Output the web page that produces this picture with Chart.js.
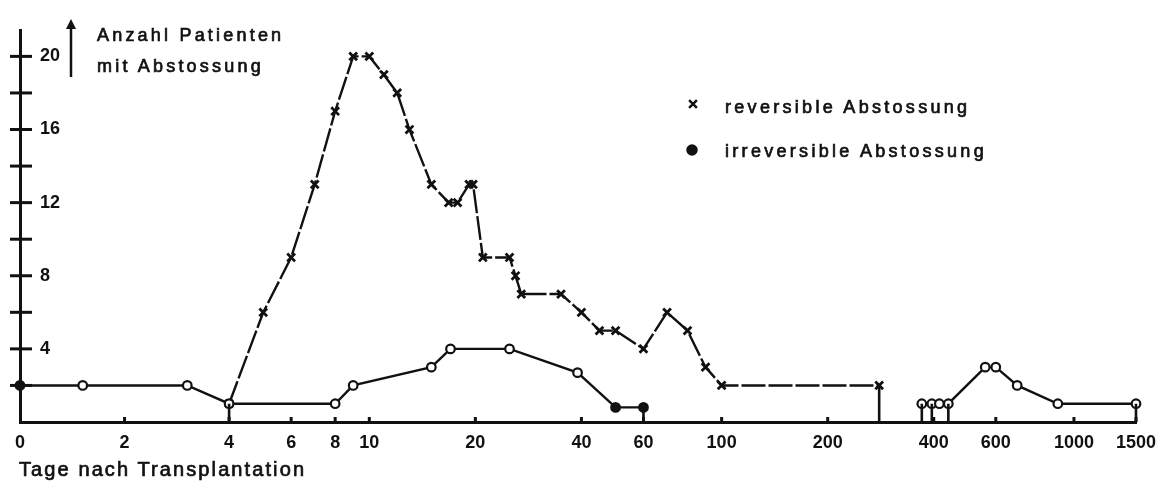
<!DOCTYPE html>
<html>
<head>
<meta charset="utf-8">
<script src="https://cdn.jsdelivr.net/npm/chart.js"></script>
<style>
  body { margin: 0; background: #fff; }
  #wrap { position: relative; width: 1166px; height: 483px; }
  .txt { position: absolute; font-family: "Liberation Sans", Arial, sans-serif; color: #111;
         white-space: nowrap; line-height: 20px; -webkit-text-stroke: 0.7px #111; }
</style>
</head>
<body>
<div id="wrap">
  <canvas id="myChart" width="1166" height="483"></canvas>
  <div class="txt" style="left:97px; top:25px; font-size:18px; letter-spacing:3.2px;">Anzahl Patienten</div>
  <div class="txt" style="left:97px; top:56px; font-size:18px; letter-spacing:3.2px;">mit Abstossung</div>
  <div class="txt" style="left:725px; top:97px; font-size:18px; letter-spacing:3.3px;">reversible Abstossung</div>
  <div class="txt" style="left:725px; top:141px; font-size:18px; letter-spacing:3.3px;">irreversible Abstossung</div>
  <div class="txt" style="left:19px; top:459px; font-size:20px; letter-spacing:2.1px;">Tage nach Transplantation</div>
</div>
<script>
// days after transplant vs. number of patients with rejection
let revDays   = [4, 5, 6, 7, 8, 9, 10, 11, 12, 13, 15, 16.8, 17.8, 19.2, 19.7, 21, 25, 26, 27, 35, 40, 45, 50, 60, 70, 80, 90, 100, 280];
let revCounts = [1, 6, 9, 13, 17, 20, 20, 19, 18, 16, 13, 12, 12, 13, 13, 9, 9, 8, 7, 7, 6, 5, 5, 4, 6, 5, 3, 2, 2];

let irrEarlyDays   = [0, 1.2, 3.2, 4, 8, 9, 15, 17, 25, 39, 50, 60];
let irrEarlyCounts = [2, 2, 2, 1, 1, 2, 3, 4, 4, 2.7, 0.8, 0.8];
let irrLateDays    = [370, 395, 415, 440, 560, 600, 690, 900, 1500];
let irrLateCounts  = [1, 1, 1, 1, 3, 3, 2, 1, 1];

// vertical drop lines down to the axis
let stemDays = [4, 60, 280, 370, 395, 440, 1500];
let stemTops = [1, 0.8, 2, 1, 1, 1, 1];

let dayTicks   = [0, 2, 4, 6, 8, 10, 20, 40, 60, 100, 200, 400, 600, 1000, 1500];
let countTicks = [2, 4, 6, 8, 10, 12, 14, 16, 18, 20];
let countLabels = [4, 8, 12, 16, 20];

const INK = '#111';
const FONT = '"Liberation Sans", Arial, sans-serif';

// x axis: linear up to day 4, logarithmic after that
const LIN_END = 4;
const LOG_STRETCH = 6.74;
function warp(v) { return v <= LIN_END ? v : LIN_END + Math.log10(v / LIN_END) * LOG_STRETCH; }
function unwarp(t) { return t <= LIN_END ? t : LIN_END * Math.pow(10, (t - LIN_END) / LOG_STRETCH); }

class DayScale extends Chart.LinearScale {
  buildTicks() {
    this.start = this.min;
    this.end = this.max;
    return dayTicks.map(v => ({value: v}));
  }
  getPixelForValue(value) {
    let a = warp(this.min), b = warp(this.max);
    return this.getPixelForDecimal((warp(value) - a) / (b - a));
  }
  getValueForPixel(pixel) {
    let a = warp(this.min), b = warp(this.max);
    return unwarp(a + this.getDecimalForPixel(pixel) * (b - a));
  }
}
DayScale.id = 'days';
DayScale.defaults = Chart.LinearScale.defaults;
Chart.register(DayScale);

function pts(xs, ys) { return xs.map((d, i) => ({x: d, y: ys[i]})); }

let stemData = [];
stemDays.forEach((d, i) => {
  stemData.push({x: d, y: 0}, {x: d, y: stemTops[i]}, {x: d, y: null});
});

function line(ctx, x1, y1, x2, y2) {
  ctx.beginPath(); ctx.moveTo(x1, y1); ctx.lineTo(x2, y2); ctx.stroke();
}

const decor = {
  id: 'decor',
  afterDraw(chart) {
    const {ctx} = chart;
    const x = chart.scales.x, y = chart.scales.y;
    ctx.save();
    ctx.strokeStyle = INK;
    ctx.fillStyle = INK;
    ctx.lineWidth = 3;
    // y tick marks cross the axis
    countTicks.forEach(v => {
      let py = y.getPixelForValue(v);
      line(ctx, x.left - 10, py, x.left + 12, py);
    });
    // little bumps on the x axis
    dayTicks.forEach(v => {
      if (v === 0) return;
      let px = x.getPixelForValue(v);
      line(ctx, px, y.bottom, px, y.bottom - 5);
    });
    // arrow next to the y title
    ctx.lineWidth = 2.5;
    line(ctx, 71, 26, 71, 77);
    ctx.beginPath(); ctx.moveTo(71, 19); ctx.lineTo(66, 29); ctx.lineTo(76, 29); ctx.closePath(); ctx.fill();
    // legend markers
    Chart.helpers.drawPoint(ctx, {pointStyle: 'crossRot', radius: 5.5, rotation: 0, borderWidth: 3.5}, 693, 104);
    Chart.helpers.drawPoint(ctx, {pointStyle: 'circle', radius: 4.5, rotation: 0, borderWidth: 1}, 692, 150);
    ctx.restore();
  }
};

const irrStyle = {
  borderColor: INK,
  borderWidth: 2.4,
  pointStyle: 'circle',
  pointRadius: 4.3,
  pointBorderWidth: 2.2,
  pointBorderColor: INK,
  pointBackgroundColor: c => (c.raw && (c.raw.x === 0 || (c.raw.x >= 50 && c.raw.x <= 60))) ? INK : '#fff',
  tension: 0,
  clip: false
};

var myChart = document.getElementById("myChart").getContext('2d');

var rejChart = new Chart(myChart, {
  type: 'line',
  data: {
    datasets: [{
      label: 'Stems',
      data: stemData,
      borderColor: INK,
      borderWidth: 2.6,
      pointRadius: 0,
      spanGaps: false,
      clip: false
    }, Object.assign({
      label: 'irreversible Abstossung',
      data: pts(irrEarlyDays, irrEarlyCounts)
    }, irrStyle), Object.assign({
      label: 'irreversible Abstossung (spät)',
      data: pts(irrLateDays, irrLateCounts)
    }, irrStyle), {
      label: 'reversible Abstossung',
      data: pts(revDays, revCounts),
      borderColor: INK,
      borderWidth: 2.4,
      borderDash: [24, 3],
      pointStyle: 'crossRot',
      pointRadius: 5.5,
      pointBorderWidth: 2.8,
      pointBorderColor: INK,
      tension: 0,
      clip: false
    }]
  },
  options: {
    responsive: false,
    animation: false,
    layout: { padding: { top: 12, right: 30, left: 0, bottom: 0 } },
    plugins: {
      legend: { display: false },
      tooltip: { enabled: false }
    },
    scales: {
      x: {
        type: 'days',
        min: 0,
        max: 1500,
        grid: { display: false },
        border: { display: true, color: INK, width: 3 },
        ticks: {
          autoSkip: false,
          maxRotation: 0,
          padding: 2,
          color: INK,
          font: { family: FONT, size: 18, weight: 'bold' },
          callback: v => String(v)
        },
        afterFit: s => { s.height = 61; }
      },
      y: {
        type: 'linear',
        min: 0,
        max: 21.4,
        grid: { display: false },
        border: { display: true, color: INK, width: 3 },
        afterBuildTicks: s => { s.ticks = countTicks.map(v => ({value: v})); },
        ticks: {
          mirror: true,
          padding: 20,
          color: INK,
          font: { family: FONT, size: 18, weight: 'bold' },
          callback: v => countLabels.includes(v) ? String(v) : ''
        },
        afterFit: s => { s.width = 20; }
      }
    }
  },
  plugins: [decor]
});
</script>
</body>
</html>
